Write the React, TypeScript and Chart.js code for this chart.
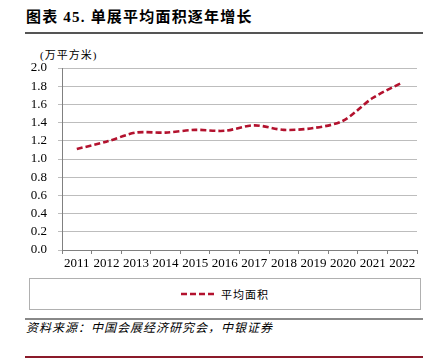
import React, { useEffect, useRef } from "react";
import { Chart, registerables } from "chart.js";

Chart.register(...registerables);

const categories = ["2011", "2012", "2013", "2014", "2015", "2016", "2017", "2018", "2019", "2020", "2021", "2022"];
const avgArea = [1.11, 1.19, 1.29, 1.29, 1.32, 1.31, 1.37, 1.32, 1.34, 1.42, 1.67, 1.84];
const seriesName = "平均面积";
const title = "图表 45. 单展平均面积逐年增长";
const unitLabel = "(万平方米)";
const sourceText = "资料来源：中国会展经济研究会，中银证券";

const LINE_COLOR = "#B3122E";
const NUM_FONT = "'Liberation Serif', 'Times New Roman', serif";
const CJK_FONT = "'Liberation Serif', 'Noto Sans CJK SC', serif";

export default function App() {
  const ref = useRef<HTMLCanvasElement | null>(null);

  useEffect(() => {
    if (!ref.current) return;
    const chart = new Chart(ref.current, {
      type: "line",
      data: {
        labels: categories,
        datasets: [
          {
            label: seriesName,
            data: avgArea,
            borderColor: LINE_COLOR,
            backgroundColor: LINE_COLOR,
            borderWidth: 2.6,
            borderDash: [6, 3],
            pointRadius: 0,
            tension: 0.3,
            fill: false,
          },
        ],
      },
      options: {
        responsive: false,
        animation: false,
        layout: { padding: { left: 0, right: 19, top: 8, bottom: 0 } },
        plugins: { legend: { display: false }, tooltip: { enabled: false } },
        scales: {
          x: {
            offset: true,
            grid: {
              display: true,
              drawOnChartArea: false,
              drawTicks: true,
              tickLength: 4,
              offset: true,
              color: "#808080",
            },
            border: { display: true, color: "#808080" },
            ticks: {
              color: "#000",
              font: { family: NUM_FONT, size: 13 },
              padding: 2,
              maxRotation: 0,
              autoSkip: false,
            },
            afterFit: (s: any) => {
              s.height = 25;
              s.paddingLeft = 0;
              s.paddingRight = 0;
            },
          },
          y: {
            min: 0,
            max: 2,
            grid: {
              color: "#bdbdbd",
              lineWidth: 1,
              drawTicks: true,
              tickLength: 4,
            },
            border: { display: true, color: "#808080" },
            ticks: {
              stepSize: 0.2,
              autoSkip: false,
              color: "#000",
              font: { family: NUM_FONT, size: 13 },
              padding: 11,
              callback: (v: any) => Number(v).toFixed(1),
            },
            afterFit: (s: any) => {
              s.width = 62;
              s.paddingTop = 0;
              s.paddingBottom = 0;
            },
          },
        },
      },
    });
    return () => chart.destroy();
  }, []);

  return (
    <div style={{ position: "absolute", left: 0, top: 0, width: 436, height: 360, background: "#fff", overflow: "hidden" }}>
      <div
        style={{
          position: "absolute",
          left: 26,
          top: 7,
          fontFamily: CJK_FONT,
          fontWeight: "bold",
          fontSize: 15,
          letterSpacing: 1.2,
          color: "#000",
          whiteSpace: "nowrap",
          lineHeight: "20px",
        }}
      >
        {title}
      </div>
      <div style={{ position: "absolute", left: 25, top: 32, width: 398, height: 2, background: "#555" }} />
      <div
        style={{
          position: "absolute",
          left: 40,
          top: 47,
          fontFamily: CJK_FONT,
          fontSize: 11,
          letterSpacing: 1,
          color: "#000",
          whiteSpace: "nowrap",
          lineHeight: "16px",
        }}
      >
        {unitLabel}
      </div>
      <canvas ref={ref} width={436} height={215} style={{ position: "absolute", left: 0, top: 60, width: 436, height: 215 }} />
      <div
        style={{
          position: "absolute",
          left: 29,
          top: 278,
          width: 390,
          height: 30,
          border: "1px solid #b0b0b0",
          display: "flex",
          alignItems: "center",
          justifyContent: "center",
        }}
      >
        <svg width={36} height={6} style={{ marginRight: 4 }}>
          <line x1={0} y1={3} x2={36} y2={3} stroke={LINE_COLOR} strokeWidth={2.6} strokeDasharray="6 3" />
        </svg>
        <span style={{ fontFamily: CJK_FONT, fontSize: 11, letterSpacing: 1, color: "#000" }}>{seriesName}</span>
      </div>
      <div style={{ position: "absolute", left: 25, top: 318, width: 398, height: 2, background: "#888" }} />
      <div
        style={{
          position: "absolute",
          left: 26,
          top: 320,
          fontFamily: CJK_FONT,
          fontSize: 12,
          fontStyle: "italic",
          letterSpacing: 1,
          color: "#000",
          whiteSpace: "nowrap",
          lineHeight: "16px",
        }}
      >
        {sourceText}
      </div>
      <div style={{ position: "absolute", left: 25, top: 356, width: 398, height: 2, background: "#8B1A2A" }} />
    </div>
  );
}
